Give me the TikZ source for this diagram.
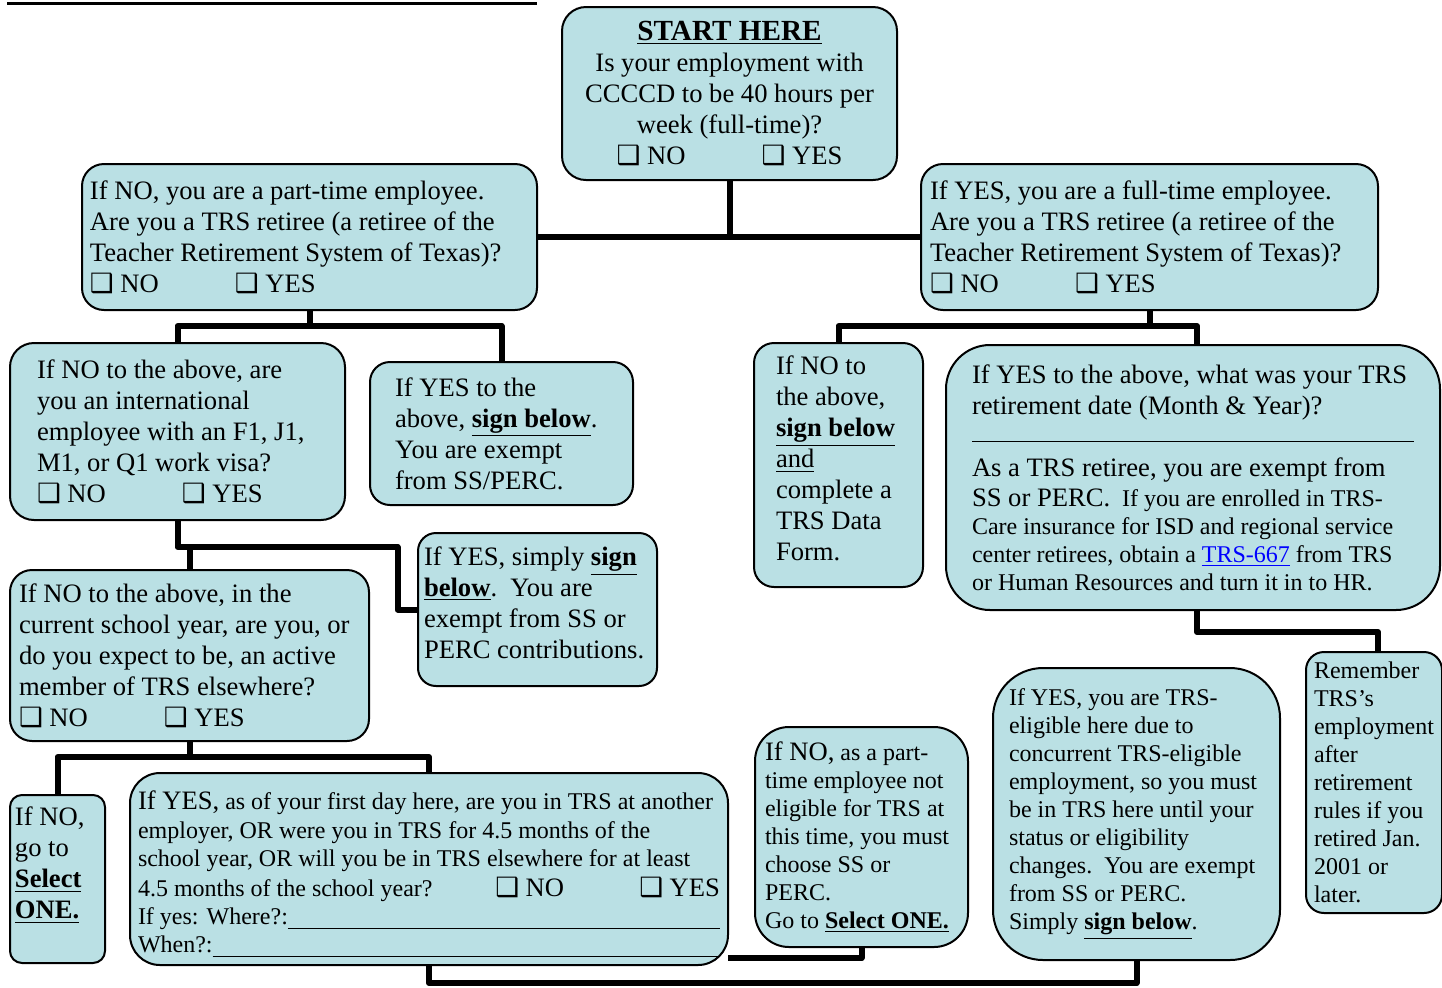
\documentclass[tikz,border=0pt]{standalone}
\usepackage{fontspec}
\setmainfont{Liberation Serif}
\newfontfamily\symf{DejaVu Sans}[Scale=1.0]
\definecolor{boxfill}{RGB}{186,224,228}
\newcommand\bigtxt{\fontsize{13.3}{15.5}\selectfont}
\newcommand\smalltxt{\fontsize{12}{14}\selectfont}
\newcommand\cb{{\symf ❑}}
\newcommand\bu[1]{\underline{\textbf{#1}}}
\newcommand\fillall{\hskip 0pt plus 1filll\kern0pt}
\newcommand\blankline{\leavevmode\leaders\hrule height -1.4pt depth 2.1pt\hskip 0pt plus 1filll\kern0pt}

\begin{document}
\begin{tikzpicture}[x=0.5pt,y=-0.5pt,line join=round,
	box/.style={draw,line width=1pt,fill=boxfill,rounded corners=10pt,anchor=north west,align=flush left,outer sep=0pt,font=\bigtxt},
	link/.style={line width=3pt}]
			\useasboundingbox (0,0) rectangle (1442,987);
			\draw[line width=1.5pt] (7,3) -- (537,3);
			\node[box,rounded corners=12pt,minimum width=167.5pt,minimum height=86.5pt,align=center] (start) at (562,7) {{\fontsize{14.6}{17}\selectfont\bu{START HERE}}\\ Is your employment with\\ CCCCD to be 40 hours per\\ week (full-time)?\\ \makebox[72.5pt][l]{\cb\ NO}\cb\ YES};
			\node[box,rounded corners=11pt,minimum width=227.5pt,minimum height=73pt,inner xsep=4pt,text width=219.5pt] (part) at (82,164) {If NO, you are a part-time employee.\\ Are you a TRS retiree (a retiree of the\\ Teacher Retirement System of Texas)?\\ \makebox[72.5pt][l]{\cb\ NO}\cb\ YES};
			\node[box,rounded corners=11pt,minimum width=228.5pt,minimum height=73pt,inner xsep=4.5pt,text width=219.5pt] (full) at (921,164) {If YES, you are a full-time employee.\\ Are you a TRS retiree (a retiree of the\\ Teacher Retirement System of Texas)?\\ \makebox[72.5pt][l]{\cb\ NO}\cb\ YES};
			\node[box,rounded corners=12pt,minimum width=167.5pt,minimum height=88.5pt,inner xsep=13.5pt,text width=140.5pt] (intl) at (10,343) {If NO to the above, are\\ you an international\\ employee with an F1, J1,\\ M1, or Q1 work visa?\\ \makebox[72.5pt][l]{\cb\ NO}\cb\ YES};
			\node[box,minimum width=131.5pt,minimum height=71.5pt,inner xsep=12.5pt,text width=106.5pt] (exA) at (370,362) {If YES to the\\ above, \bu{sign below}.\\ You are exempt\\ from SS/PERC.};
			\node[box,minimum width=84.5pt,minimum height=122pt,inner xsep=11pt,text width=62.5pt] (signB) at (754,343) {If NO to\\ the above,\\ \bu{sign below}\\ \underline{and}\\ complete~a\\ TRS Data\\ Form.\rule[-6.5pt]{0pt}{1pt}};
			\node[box,rounded corners=22pt,minimum width=247pt,minimum height=132.5pt,inner xsep=13pt,text width=221pt,font=\smalltxt] (retdate) at (946,345) {{\bigtxt If YES to the above, what was your TRS}\\[1.5pt] {\bigtxt retirement date (Month \& Year)?}\\[-2pt] \blankline\\[5pt] {\bigtxt As a TRS retiree, you are exempt from}\\[1pt] {\bigtxt SS or PERC.}\ \ If you are enrolled in TRS-\\ Care insurance for ISD and regional service\\ center retirees, obtain a \textcolor{blue}{\underline{TRS-667}} from TRS\\ or Human Resources and turn it in to HR.};
			\node[box,rounded corners=9pt,minimum width=119.5pt,minimum height=76.5pt,inner xsep=3pt,text width=113.5pt] (simply) at (418,533) {If YES, simply \bu{sign}\\ \bu{below}.\ \ You are\\ exempt from SS or\\ PERC contributions.\rule[-7pt]{0pt}{1pt}};
			\node[box,rounded corners=11pt,minimum width=179.5pt,minimum height=85.5pt,inner xsep=4.5pt,text width=170.5pt] (school) at (10,570) {If NO to the above, in the\\ current school year, are you, or\\ do you expect to be, an active\\ member of TRS elsewhere?\\ \makebox[72.5pt][l]{\cb\ NO}\cb\ YES};
			\node[box,rounded corners=6pt,minimum width=47.5pt,minimum height=84pt,inner xsep=2.5pt,text width=42.5pt] (selA) at (10,795) {If NO,\\ go to\\ \bu{Select}\\ \bu{ONE.}\rule[-16pt]{0pt}{1pt}};
			\node[box,rounded corners=15pt,minimum width=299pt,minimum height=96pt,inner xsep=4pt,text width=291pt,font=\smalltxt] (firstday) at (130,773) {\rule{0pt}{14.5pt}{\bigtxt If YES,} as of your first day here, are you in TRS at another\\[0.5pt] employer, OR were you in TRS for 4.5 months of the\\ school year, OR will you be in TRS elsewhere for at least\\[1pt] 4.5 months of the school year?\fillall\makebox[72pt][l]{\bigtxt\cb\ NO}{\bigtxt\cb\ YES}\\ If yes: Where?:\blankline\\ When?:\blankline};
			\node[box,rounded corners=17pt,minimum width=106.5pt,minimum height=110pt,inner xsep=5pt,text width=96.5pt,font=\smalltxt] (notelig) at (755,727) {{\bigtxt If NO,} as a part-\\ time employee not\\ eligible for TRS at\\ this time, you must\\ choose SS or\\ PERC.\\ Go to \bu{Select ONE.}};
			\node[box,rounded corners=25pt,minimum width=143.5pt,minimum height=146pt,inner xsep=8pt,text width=127.5pt,font=\smalltxt] (eligible) at (993,668) {If YES, you are TRS-\\ eligible here due to\\ concurrent TRS-eligible\\ employment, so you must\\ be in TRS here until your\\ status or eligibility\\ changes.\ \ You are exempt\\ from SS or PERC.\\ Simply \bu{sign below}.};
			\node[box,rounded corners=9pt,minimum width=68pt,minimum height=130.5pt,inner xsep=4pt,text width=60pt,font=\smalltxt] (remember) at (1306,652) {Remember\\ TRS’s\\ employment\\ after\\ retirement\\ rules if you\\ retired Jan.\\ 2001 or\\ later.};
			\draw[link] (start.south) -- (start.south |- part.east);
			\draw[link] (part.east) -- (full.west);
			\draw[link] (part.south) -- ++(0,16);
			\draw[link] (intl.north) -- ++(0,-17) -| (exA.north);
			\draw[link] (full.south) -- ++(0,16);
			\draw[link] (signB.north) -- ++(0,-17) -| ([xshift=2pt]retdate.north);
			\draw[link] (intl.south) -- ++(0,27) -- ++(220,0) |- (simply.west);
			\draw[link] (school.north) -- ++(0,-23);
			\draw[link] (school.south) -- ++(0,16);
			\draw[link] (selA.north) -- ++(0,-38) -| (firstday.north);
			\draw[link] (firstday.south) -- ++(0,18) -| (eligible.south);
			\draw[link] (notelig.south) |- ([yshift=3.5pt]firstday.south east);
			\draw[link] ([xshift=2pt]retdate.south) -- ++(0,22) -| ([xshift=2pt]remember.north);
		\end{tikzpicture}
\end{document}
